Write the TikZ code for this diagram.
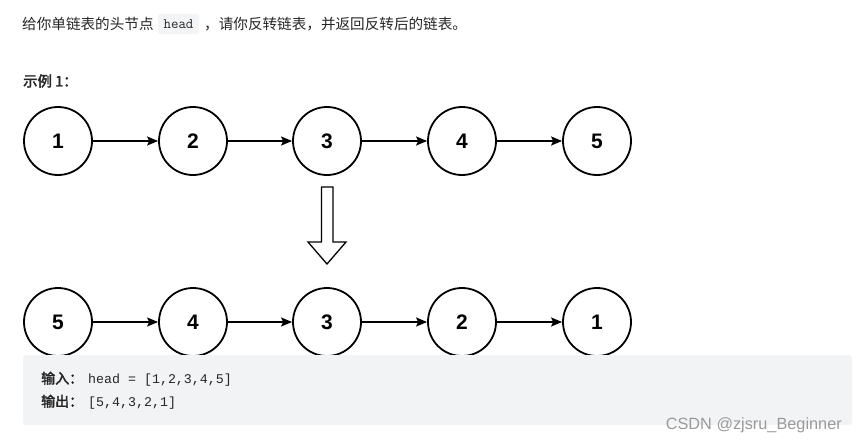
\documentclass[tikz,border=0pt]{standalone}
\usepackage{fontspec}
\setmainfont{Liberation Sans}
\newfontfamily\cjk{Noto Sans CJK SC}
\newfontfamily\cjkb{Noto Sans CJK SC}[FakeBold=2.5]
\newfontfamily\mono{Liberation Mono}
\usetikzlibrary{arrows.meta}
\definecolor{boxgray}{HTML}{F2F3F5}
\definecolor{codegray}{HTML}{F3F4F5}
\definecolor{txt}{HTML}{262626}
\definecolor{wm}{HTML}{9A9A9A}
\begin{document}
\begin{tikzpicture}[x=1pt,y=-1pt,
  lnode/.style={circle,draw=black,line width=1.8pt,minimum size=68pt,inner sep=0pt,font=\fontsize{21}{21}\selectfont\bfseries},
  link/.style={line width=1.4pt,-{Stealth[length=11pt,width=9pt,inset=2pt]}}]
\useasboundingbox (0,0) rectangle (856,444);
\fill[white] (0,0) rectangle (856,444);
% top text
\node[fill=codegray,rounded corners=2pt,minimum width=41pt,minimum height=20pt,inner sep=0pt,font=\ttfamily\fontsize{14.5}{14}\selectfont,text=txt] (code) at (178.5,24) {head};
\node[anchor=west,inner sep=0pt,font=\cjk\fontsize{14.6}{14}\selectfont,text=txt] (t1) at (22,24) {给你单链表的头节点};
\node[anchor=west,inner sep=0pt,font=\cjk\fontsize{14.6}{14}\selectfont,text=txt] (t2) at (204,24) {，请你反转链表，并返回反转后的链表。};
\node[anchor=west,inner sep=0pt,font=\cjkb\fontsize{14.4}{14}\selectfont,text=txt] (ex) at (23,81) {示例 1：};
% row 1
\foreach \n/\x in {1/58,2/193,3/327,4/462,5/597}{
  \node[lnode] (a\n) at (\x,141) {\n};
}
\foreach \a/\b in {1/2,2/3,3/4,4/5}{\draw[link] (a\a) -- (a\b);}
% big arrow
\draw[line width=1.3pt,fill=white,line join=miter] (321.5,187) -- (333,187) -- (333,242) -- (346,242) -- (327,264) -- (308,242) -- (321.5,242) -- cycle;
% row 2
\foreach \n/\v/\x in {1/5/58,2/4/193,3/3/327,4/2/462,5/1/597}{
  \node[lnode] (b\n) at (\x,322) {\v};
}
\foreach \a/\b in {1/2,2/3,3/4,4/5}{\draw[link] (b\a) -- (b\b);}
% output box
\fill[boxgray,rounded corners=3pt] (23,355) rectangle (852,425);
\node[anchor=west,inner sep=0pt,text=txt] (in) at (41,379) {{\cjkb\fontsize{14}{14}\selectfont 输入：}\hspace{5pt}{\mono\fontsize{13.3}{13}\selectfont head = [1,2,3,4,5]}};
\node[anchor=west,inner sep=0pt,text=txt] (out) at (41,402) {{\cjkb\fontsize{14}{14}\selectfont 输出：}\hspace{5pt}{\mono\fontsize{13.3}{13}\selectfont [5,4,3,2,1]}};
\node[anchor=east,inner sep=0pt,text=wm,font=\fontsize{16.3}{17}\selectfont] (w) at (842,425) {CSDN @zjsru\_Beginner};
\end{tikzpicture}
\end{document}
